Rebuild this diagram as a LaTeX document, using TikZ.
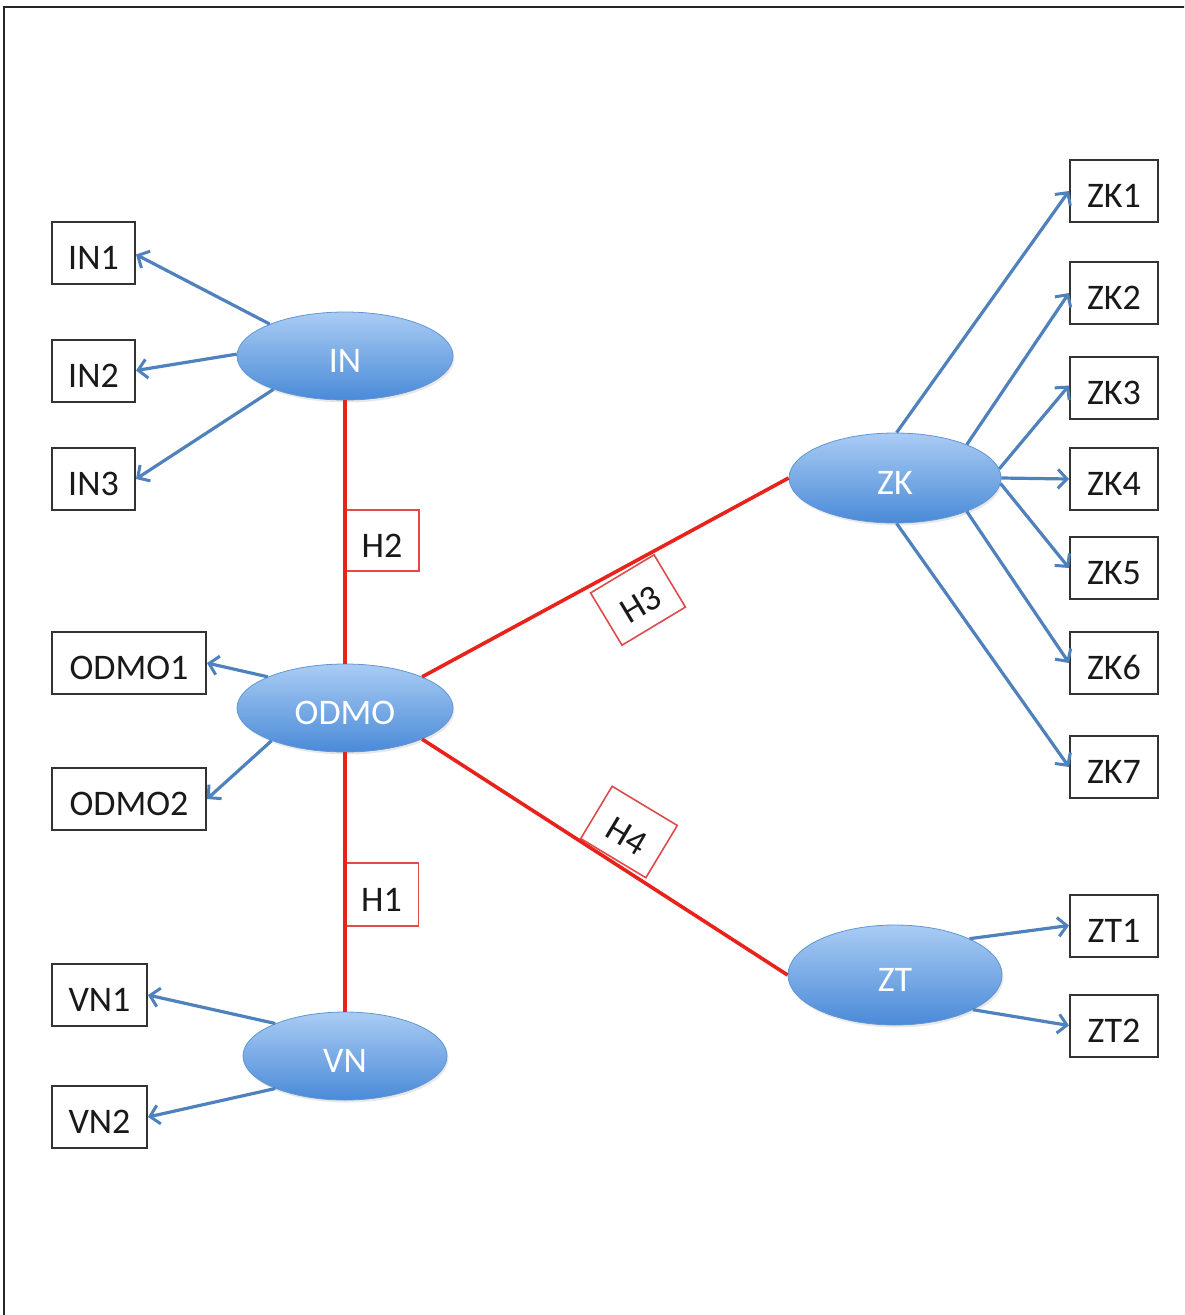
\documentclass[tikz,border=0pt]{standalone}
\usepackage{fontspec}
\setmainfont{Carlito}
\usetikzlibrary{shapes.geometric,arrows.meta,shadows}
\definecolor{arrowblue}{HTML}{4F81BD}
\definecolor{hubtop}{HTML}{A9CCF4}
\definecolor{hubbot}{HTML}{4A8AD8}
\definecolor{hubedge}{HTML}{6096D4}
\definecolor{linkred}{HTML}{E8231B}
\definecolor{hred}{HTML}{E04A4A}
\begin{document}
\begin{tikzpicture}[x=1pt,y=-1pt,
  txt/.style={font=\fontsize{36}{42}\selectfont,text height=33pt,text depth=0pt},
  box/.style={txt,draw=black!80,line width=2pt,minimum height=62pt,inner sep=0pt,text=black!90,fill=white},
  hub/.style={txt,ellipse,draw=hubedge,line width=0.8pt,top color=hubtop,bottom color=hubbot,
    minimum width=216pt,minimum height=88pt,inner sep=0pt,text=white,
    drop shadow={opacity=0.18,shadow xshift=1.5pt,shadow yshift=-2.5pt}},
  hbox/.style={txt,draw=hred,line width=1.6pt,fill=white,minimum width=74pt,minimum height=61pt,inner sep=0pt,text=black!90},
  link/.style={draw=linkred,line width=3.6pt},
  arr/.style={draw=arrowblue,line width=3.2pt,-{Straight Barb[length=9pt,width=19pt,line width=3pt]}}]
\useasboundingbox (0,0) rectangle (1184,1315);
\clip (0,0) rectangle (1184,1315);
\draw[line width=2pt,black!85] (1190,6.5) -- (4,6.5) -- (4,1320);

% hubs
\node[hub] (IN) at (345,356) {IN};
\node[hub] (ODMO) at (345,708) {ODMO};
\node[hub,minimum width=204pt] (VN) at (345,1056) {VN};
\node[hub,minimum width=212pt,minimum height=90pt] (ZK) at (895,478) {ZK};
\node[hub,minimum width=214pt,minimum height=100pt] (ZT) at (895,975) {ZT};

% leaf boxes
\node[box,minimum width=83pt] (IN1) at (93.5,252.5) {IN1};
\node[box,minimum width=83pt] (IN2) at (93.5,370.5) {IN2};
\node[box,minimum width=83pt] (IN3) at (93.5,479) {IN3};
\node[box,minimum width=154pt] (ODMO1) at (129,663) {ODMO1};
\node[box,minimum width=154pt] (ODMO2) at (129,799) {ODMO2};
\node[box,minimum width=95pt] (VN1) at (99.5,995) {VN1};
\node[box,minimum width=95pt] (VN2) at (99.5,1117) {VN2};
\node[box,minimum width=88pt] (ZK1) at (1114,191) {ZK1};
\node[box,minimum width=88pt] (ZK2) at (1114,293) {ZK2};
\node[box,minimum width=88pt] (ZK3) at (1114,387.5) {ZK3};
\node[box,minimum width=88pt] (ZK4) at (1114,479) {ZK4};
\node[box,minimum width=88pt] (ZK5) at (1114,568) {ZK5};
\node[box,minimum width=88pt] (ZK6) at (1114,663) {ZK6};
\node[box,minimum width=88pt] (ZK7) at (1114,767) {ZK7};
\node[box,minimum width=88pt] (ZT1) at (1114,925.5) {ZT1};
\node[box,minimum width=88pt] (ZT2) at (1114,1025.5) {ZT2};

% H label boxes
\node[hbox] (H2) at (382,540.5) {H2};
\node[hbox,minimum height=63pt] (H1) at (381.5,894.5) {H1};
\node[hbox,rotate=31] (H3) at (638,600) {H3};
\node[hbox,rotate=-31,minimum width=76pt] (H4) at (629,832) {H4};

% red links
\draw[link] (IN.south) -- (ODMO.north);
\draw[link] (ODMO.south) -- (VN.north);
\draw[link] (ODMO.22.5) -- (ZK.west);
\draw[link] (ODMO.-22.5) -- (ZT.west);

% blue arrows
\draw[arr] (IN.157) -- ([yshift=-2pt]IN1.east);
\draw[arr] (IN.179) -- (IN2.east);
\draw[arr] (IN.205) -- (IN3.east);
\draw[arr] (ODMO.158) -- (ODMO1.east);
\draw[arr] (ODMO.204) -- (ODMO2.east);
\draw[arr] (VN.155) -- (VN1.east);
\draw[arr] (VN.205) -- (VN2.east);
\draw[arr] (ZK.88) -- (ZK1.west);
\draw[arr] (ZK.25) -- (ZK2.west);
\draw[arr] (ZK.5) -- ([yshift=2pt]ZK3.west);
\draw[arr] (ZK.0) -- (ZK4.west);
\draw[arr] (ZK.-3) -- (ZK5.west);
\draw[arr] (ZK.-25) -- (ZK6.west);
\draw[arr] (ZK.-88) -- (ZK7.west);
\draw[arr] (ZT.26) -- (ZT1.west);
\draw[arr] (ZT.-24) -- (ZT2.west);
\end{tikzpicture}
\end{document}
